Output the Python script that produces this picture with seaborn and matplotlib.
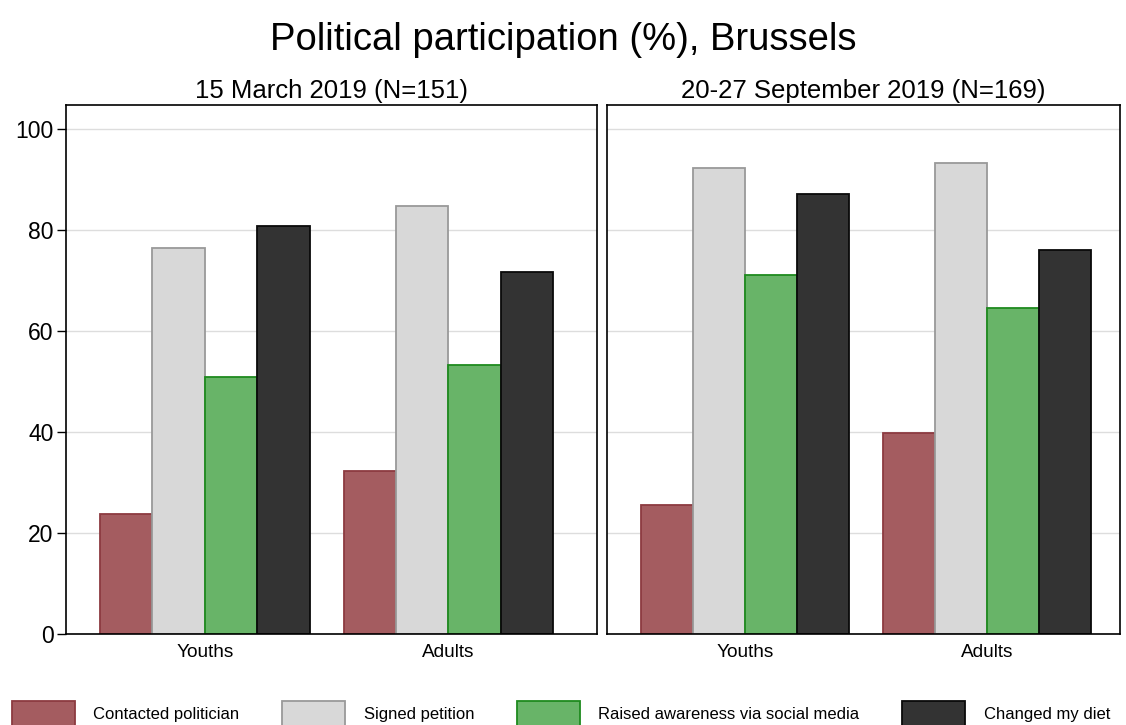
import pandas as pd
import numpy as np
import seaborn as sns
import matplotlib.pyplot as plt
import matplotlib.patches as mpatches

# Datos
groups = ["Youths", "Adults"]
activities = ["Contacted politician", "Signed petition",
              "Raised awareness via social media", "Changed my diet"]
march_youths = [23.8, 76.4, 50.9, 80.8]
march_adults = [32.3, 84.8, 53.3, 71.7]
sept_youths = [25.5, 92.3, 71.1, 87.1]
sept_adults = [39.8, 93.3, 64.6, 76.0]
panel_titles = ["15 March 2019 (N=151)", "20-27 September 2019 (N=169)"]

fill_colors = ["#A45C60", "#D8D8D8", "#68B468", "#333333"]
edge_colors = ["#8C3A40", "#999999", "#1E8A1E", "#0A0A0A"]

def make_df(youths, adults):
    rows = []
    for g, vals in zip(groups, [youths, adults]):
        for a, v in zip(activities, vals):
            rows.append({"group": g, "activity": a, "value": v})
    return pd.DataFrame(rows)

df_march = make_df(march_youths, march_adults)
df_sept = make_df(sept_youths, sept_adults)

sns.set_style("white")
plt.rcParams["font.family"] = ["Liberation Sans", "DejaVu Sans"]
plt.rcParams["text.color"] = "black"
plt.rcParams["xtick.color"] = "black"
plt.rcParams["ytick.color"] = "black"

fig = plt.figure(figsize=(11.26, 7.25), dpi=100)
ax1 = fig.add_axes([0.0586, 0.1255, 0.4716, 0.7297])
ax2 = fig.add_axes([0.539, 0.1255, 0.4556, 0.7297])

for ax, d, title, xl in [(ax1, df_march, panel_titles[0], (-0.57, 1.61)),
                         (ax2, df_sept, panel_titles[1], (-0.57, 1.55))]:
    sns.barplot(data=d, x="group", y="value", hue="activity", order=groups,
                hue_order=activities, palette=fill_colors, width=0.86,
                saturation=1, ax=ax, legend=False)
    for cont, ec in zip(ax.containers, edge_colors):
        for bar in cont:
            bar.set_edgecolor(ec)
            bar.set_linewidth(1.3)
    ax.set_ylim(0, 104.8)
    ax.set_xlim(*xl)
    ax.set_yticks([0, 20, 40, 60, 80, 100])
    ax.yaxis.grid(True, color="#DDDDDD", linewidth=1)
    ax.set_axisbelow(True)
    ax.set_xlabel("")
    ax.set_ylabel("")
    ax.set_title(title, fontsize=18.5, pad=5, color="black")
    for s in ax.spines.values():
        s.set_visible(True)
        s.set_color("black")
        s.set_linewidth(1.2)
    ax.tick_params(axis="x", labelsize=13.7, length=0, pad=7)
    ax.tick_params(axis="y", labelsize=16.5, length=6.5, width=1, pad=2.5, left=True)

ax2.tick_params(axis="y", left=False, labelleft=False)

fig.text(0.5, 0.945, "Political participation (%), Brussels", fontsize=27.5,
         ha="center", va="center", color="black")

handles = [mpatches.Patch(facecolor=fc, edgecolor=ec, linewidth=1.3, label=a)
           for a, fc, ec in zip(activities, fill_colors, edge_colors)]
fig.legend(handles=handles, loc="lower left", ncol=4, frameon=False,
           bbox_to_anchor=(0.0045, -0.01), borderaxespad=0, borderpad=0.4,
           fontsize=12, handlelength=3.8, handleheight=1.9, handletextpad=1.1,
           columnspacing=2.55)

plt.savefig("out.png", dpi=100)
